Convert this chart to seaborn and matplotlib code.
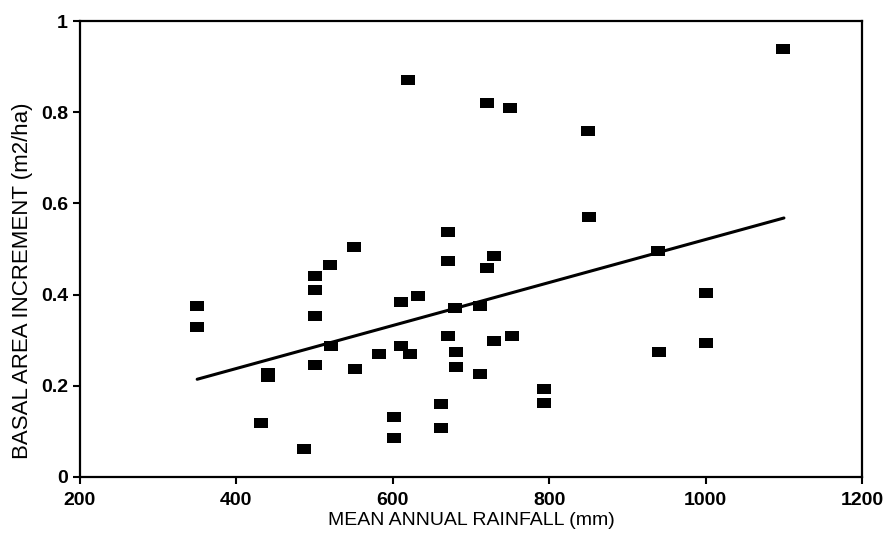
import pandas as pd
import matplotlib
matplotlib.use("Agg")
import matplotlib.pyplot as plt
import seaborn as sns

# rainfall (mm) and basal area increment (m2/ha)
rainfall = [350, 350, 440, 440, 431, 487, 500, 500, 500, 500, 520, 551, 521, 552,
            582, 611, 632, 611, 622, 602, 602, 670, 670, 680, 671, 681, 681, 662,
            662, 729, 721, 711, 752, 730, 711, 793, 793, 720, 750, 620, 850, 851,
            1099, 939, 940, 1001, 1001]
increment = [0.375, 0.329, 0.218, 0.228, 0.117, 0.061, 0.440, 0.409, 0.352, 0.245,
             0.465, 0.505, 0.287, 0.236, 0.270, 0.383, 0.397, 0.288, 0.270, 0.132,
             0.086, 0.538, 0.474, 0.370, 0.310, 0.273, 0.242, 0.159, 0.107, 0.485,
             0.458, 0.375, 0.309, 0.297, 0.226, 0.193, 0.161, 0.821, 0.810, 0.870,
             0.758, 0.570, 0.939, 0.495, 0.273, 0.403, 0.293]

# fitted trend line end points
trend_x = [350, 1100]
trend_y = [0.214, 0.568]

x_ticks = [200, 400, 600, 800, 1000, 1200]
y_ticks = [0, 0.2, 0.4, 0.6, 0.8, 1]
y_tick_labels = ["0", "0.2", "0.4", "0.6", "0.8", "1"]

df = pd.DataFrame({"rainfall": rainfall, "increment": increment})
trend_df = pd.DataFrame({"rainfall": trend_x, "increment": trend_y})

sns.set_style("ticks")
plt.rcParams["font.family"] = ["Liberation Sans", "DejaVu Sans"]

fig = plt.figure(figsize=(8.87, 5.43), dpi=100)
ax = fig.add_axes([0.090, 0.122, 0.882, 0.839])

# wide rectangular marker like the original
rect = [(-1.45, -1), (1.45, -1), (1.45, 1), (-1.45, 1), (-1.45, -1)]
sns.scatterplot(data=df, x="rainfall", y="increment", marker=rect, s=115,
                color="black", edgecolor="black", linewidth=0, ax=ax)
sns.lineplot(data=trend_df, x="rainfall", y="increment", color="black",
             linewidth=2.2, ax=ax)

ax.set_xlim(200, 1200)
ax.set_ylim(0, 1)
ax.set_xticks(x_ticks)
ax.set_yticks(y_ticks)
ax.set_yticklabels(y_tick_labels)
ax.tick_params(direction="out", length=5, width=1.5, labelsize=14, colors="black")
ax.tick_params(axis="x", pad=6)
for lab in ax.get_xticklabels() + ax.get_yticklabels():
    lab.set_fontweight("bold")

for sp in ax.spines.values():
    sp.set_visible(True)
    sp.set_linewidth(1.6)
    sp.set_color("black")

ax.set_xlabel("MEAN ANNUAL RAINFALL (mm)", fontsize=14, color="black", labelpad=2)
ax.set_ylabel("BASAL AREA INCREMENT (m2/ha)", fontsize=16, color="black")
ax.yaxis.set_label_coords(-0.06, 0.43)

plt.savefig("out.png", dpi=100)
